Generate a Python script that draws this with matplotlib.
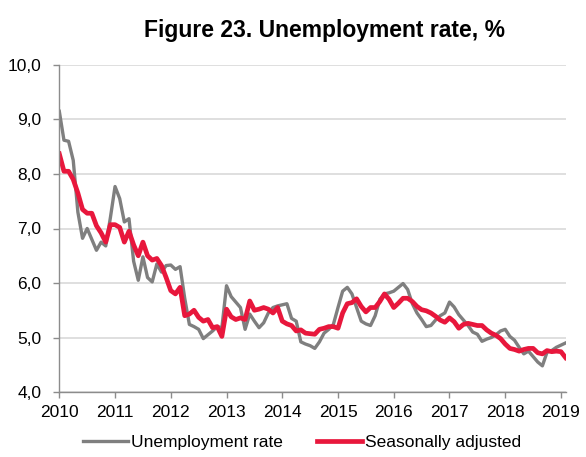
import numpy as np
import matplotlib
matplotlib.use('Agg')
import matplotlib.pyplot as plt
from matplotlib.ticker import FuncFormatter

plt.rcParams['font.family'] = ['Liberation Sans', 'DejaVu Sans']

# monthly data, Jan 2010 - Feb 2019
unemp = [9.15, 8.62, 8.60, 8.25, 7.30, 6.82, 7.00, 6.80, 6.60, 6.75, 6.68, 7.20,
         7.77, 7.55, 7.12, 7.18, 6.40, 6.05, 6.48, 6.10, 6.02, 6.35, 6.20, 6.32,
         6.33, 6.25, 6.30, 5.72, 5.24, 5.20, 5.15, 4.98, 5.05, 5.12, 5.20, 5.18,
         5.95, 5.75, 5.65, 5.55, 5.15, 5.43, 5.30, 5.18, 5.27, 5.45, 5.55, 5.58,
         5.60, 5.62, 5.35, 5.30, 4.92, 4.88, 4.85, 4.80, 4.92, 5.08, 5.15, 5.24,
         5.55, 5.85, 5.92, 5.80, 5.55, 5.30, 5.25, 5.22, 5.40, 5.70, 5.80, 5.82,
         5.85, 5.92, 5.99, 5.88, 5.62, 5.45, 5.33, 5.20, 5.22, 5.32, 5.40, 5.45,
         5.65, 5.56, 5.42, 5.32, 5.22, 5.10, 5.06, 4.93, 4.97, 5.00, 5.05, 5.12,
         5.15, 5.02, 4.95, 4.82, 4.70, 4.75, 4.65, 4.55, 4.48, 4.73, 4.76, 4.82,
         4.86, 4.90]
seas_adj = [8.37, 8.05, 8.05, 7.90, 7.65, 7.35, 7.28, 7.28, 7.05, 6.92, 6.75, 7.07,
            7.07, 7.02, 6.75, 6.95, 6.70, 6.50, 6.75, 6.50, 6.42, 6.45, 6.32, 6.10,
            5.86, 5.80, 5.92, 5.40, 5.43, 5.50, 5.37, 5.30, 5.33, 5.18, 5.20, 5.02,
            5.52, 5.38, 5.33, 5.36, 5.33, 5.67, 5.50, 5.52, 5.55, 5.52, 5.45, 5.55,
            5.30, 5.25, 5.22, 5.12, 5.14, 5.08, 5.07, 5.06, 5.15, 5.17, 5.20, 5.20,
            5.17, 5.45, 5.62, 5.64, 5.71, 5.57, 5.47, 5.55, 5.55, 5.66, 5.80, 5.70,
            5.55, 5.63, 5.72, 5.72, 5.66, 5.57, 5.51, 5.49, 5.45, 5.39, 5.32, 5.28,
            5.36, 5.29, 5.17, 5.24, 5.26, 5.24, 5.22, 5.22, 5.14, 5.08, 5.04, 4.98,
            4.88, 4.80, 4.78, 4.75, 4.78, 4.80, 4.80, 4.72, 4.70, 4.76, 4.74, 4.75,
            4.74, 4.63]
years = list(range(2010, 2020))

t = 2010 + np.arange(len(unemp)) / 12.0

fig = plt.figure(figsize=(5.86, 4.57), dpi=100)
ax = fig.add_axes([0.1012, 0.1422, 0.8648, 0.7156])

ax.plot(t, unemp, color='#7f7f7f', lw=2.4, label='Unemployment rate',
        solid_joinstyle='round')
ax.plot(t, seas_adj, color='#e8173c', lw=3.4, label='Seasonally adjusted',
        solid_joinstyle='round')

ax.set_xlim(2010, 2010 + (len(unemp) - 0.9) / 12.0)
ax.set_ylim(4, 10)
ax.set_xticks(years)
ax.set_yticks(np.arange(4, 10.1, 1))
ax.yaxis.set_major_formatter(FuncFormatter(lambda v, p: ('%.1f' % v).replace('.', ',')))
ax.grid(axis='y', color='#d9d9d9', lw=1.2)
ax.set_axisbelow(True)
for s in ['top', 'right']:
  ax.spines[s].set_visible(False)
for s in ['left', 'bottom']:
  ax.spines[s].set_color('#8c8c8c')
  ax.spines[s].set_linewidth(1.0)
ax.tick_params(axis='both', colors='#8c8c8c', labelcolor='black', labelsize=12.5,
               length=4, width=1.0)
ax.tick_params(axis='x', pad=5)
ax.tick_params(axis='y', pad=9)

fig.text(325 / 586, 1 - 30 / 457, 'Figure 23. Unemployment rate, %', ha='center', va='center',
         fontsize=16.5, fontweight='bold')

fig.legend(loc='lower center', bbox_to_anchor=(302 / 586, -0.018), ncol=2, frameon=False,
           fontsize=12.5, handlelength=2.6, handletextpad=0.15, columnspacing=2.0)

fig.savefig('out.png', dpi=100)
